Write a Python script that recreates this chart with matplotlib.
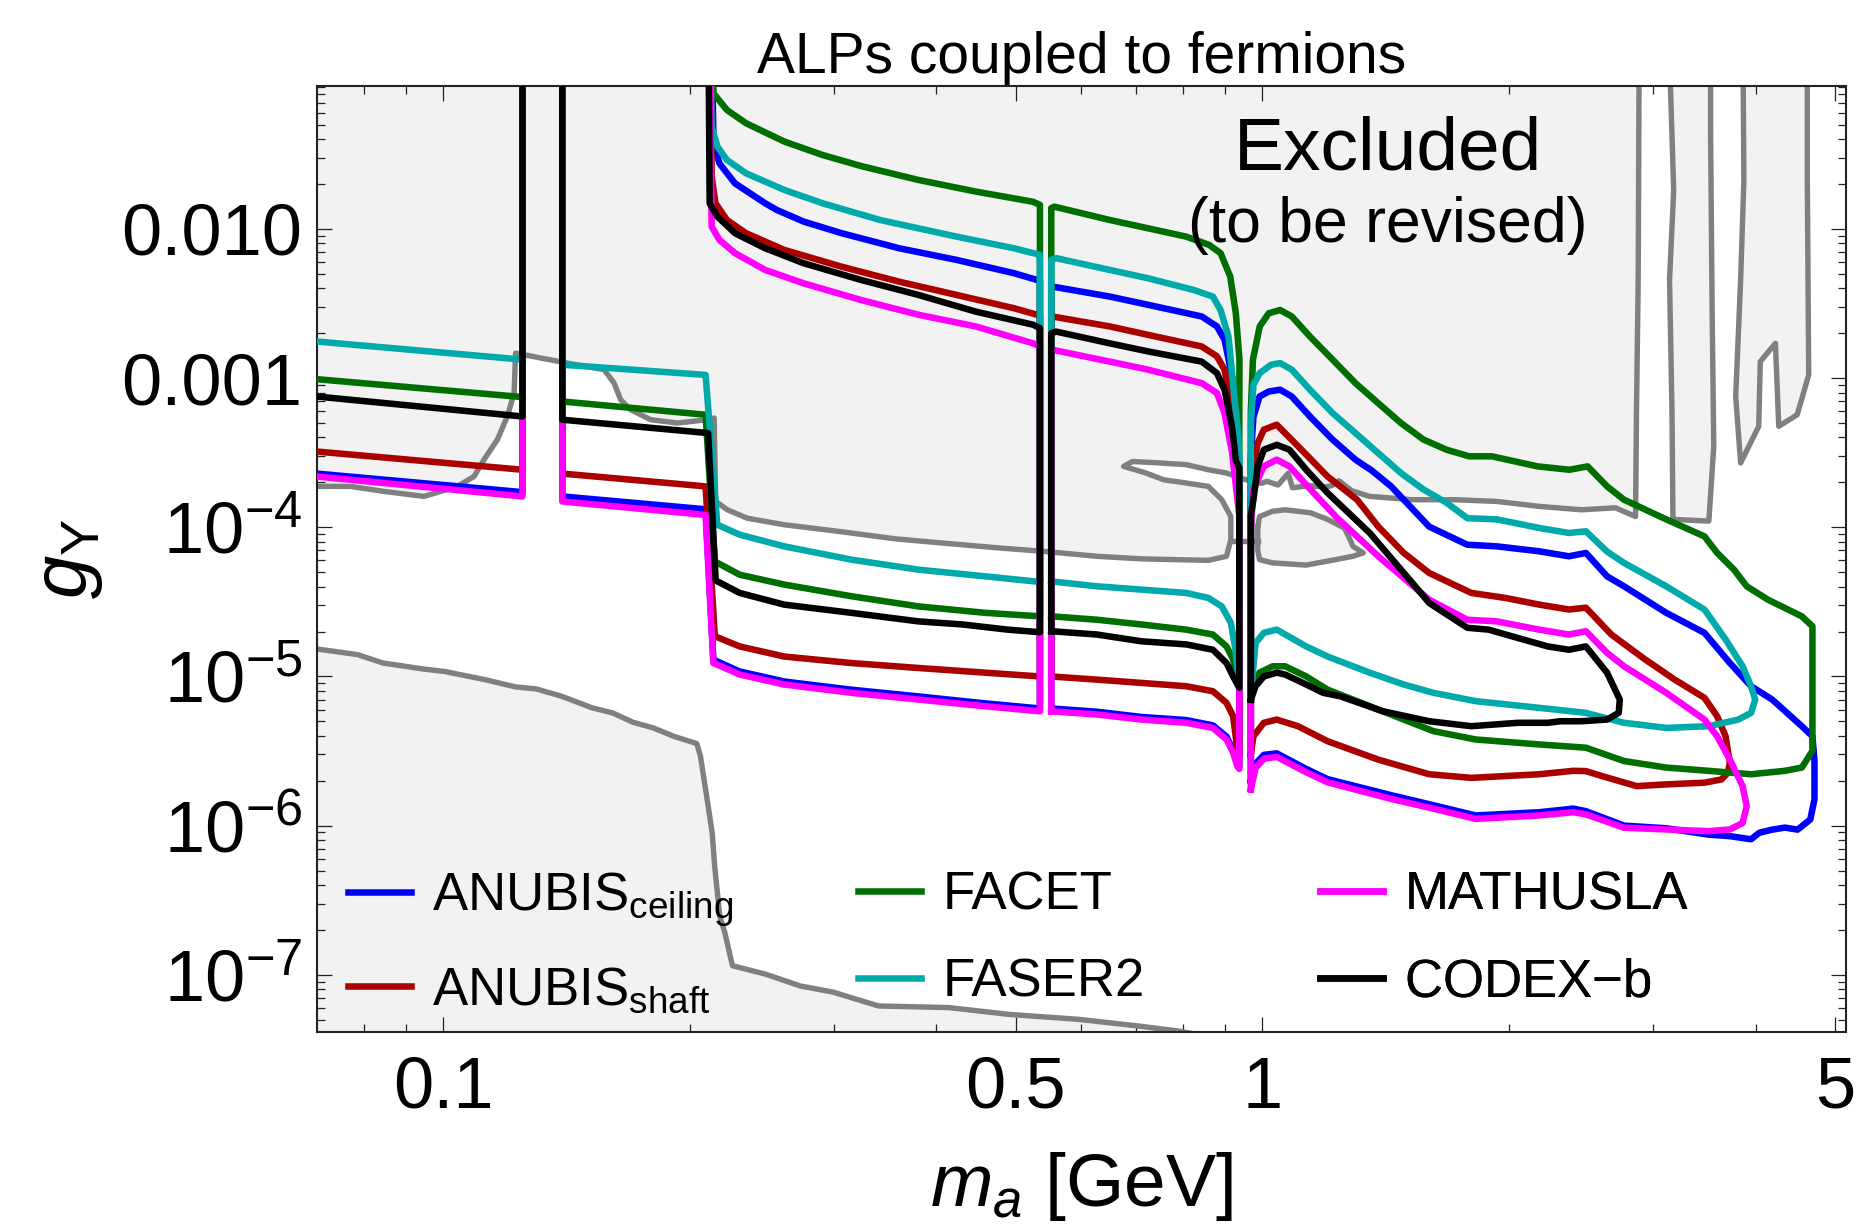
import numpy as np
import matplotlib
matplotlib.use('Agg')
import matplotlib.pyplot as plt
from matplotlib.ticker import FixedLocator, FixedFormatter, NullFormatter

plt.rcParams['font.family'] = ['Liberation Sans', 'DejaVu Sans']
plt.rcParams['mathtext.fontset'] = 'custom'
plt.rcParams['mathtext.rm'] = 'Liberation Sans'
plt.rcParams['mathtext.it'] = 'Liberation Sans:italic'
plt.rcParams['mathtext.bf'] = 'Liberation Sans:bold'

TOP = 1.0      # contours leave the frame at the top
BOTTOM = 1e-9  # and at the bottom

m_range = (0.07, 5.16)
g_range = (4.14e-8, 0.0908)

x_major = [0.1, 0.5, 1, 5]
x_major_labels = ['0.1', '0.5', '1', '5']
x_minor = [0.08, 0.09, 0.2, 0.3, 0.4, 0.6, 0.7, 0.8, 0.9, 2, 3, 4]
y_major = [1e-7, 1e-6, 1e-5, 1e-4, 1e-3, 1e-2]
y_major_labels = ['$10^{-7}$', '$10^{-6}$', '$10^{-5}$', '$10^{-4}$', '0.001', '0.010']

# ---- sensitivity contours (m_a [GeV], g_Y), one list per closed piece ----
anubis_ceiling = [
    [(0.07, 2.29e-4), (0.1249, 1.72e-4), (0.1249, TOP)],
    [(0.1397, TOP), (0.1397, 1.61e-4), (0.209, 1.32e-4), (0.2136, 1.30e-5), (0.216, 1.26e-5),
     (0.230, 1.08e-5), (0.2607, 9.25e-6), (0.3148, 8.15e-6), (0.380, 7.35e-6), (0.4586, 6.6e-6),
     (0.535, 6.1e-6), (0.535, 4.5e-3), (0.5306, 4.55e-3), (0.4973, 5.05e-3), (0.4232, 6.20e-3),
     (0.3601, 7.42e-3), (0.3064, 9.36e-3), (0.2753, 0.0112), (0.2553, 0.0134), (0.2471, 0.01486),
     (0.2270, 0.0202), (0.2173, 0.0275), (0.2137, 0.0375), (0.2114, TOP)],
    [(0.5523, 6.1e-6), (0.628, 5.8e-6), (0.712, 5.35e-6), (0.807, 5.1e-6), (0.870, 4.7e-6),
     (0.904, 3.95e-6), (0.921, 3.2e-6), (0.932, 2.6e-6), (0.937, 2.5e-6), (0.937, 2.2e-4),
     (0.930, 4.5e-4), (0.918, 1.03e-3), (0.899, 1.81e-3), (0.880, 2.22e-3), (0.843, 2.59e-3),
     (0.7248, 3.10e-3), (0.651, 3.52e-3), (0.5537, 4.11e-3), (0.5523, 4.0e-3), (0.5523, 6.1e-6)],
    [(0.968, 2.0e-6), (0.968, 3.0e-4), (0.975, 5.5e-4), (0.992, 7.53e-4), (1.018, 8.13e-4),
     (1.051, 8.36e-4), (1.086, 7.53e-4), (1.143, 5.53e-4), (1.218, 3.87e-4), (1.299, 2.84e-4),
     (1.36, 2.4e-4), (1.436, 1.88e-4), (1.598, 1.01e-4), (1.779, 7.64e-5), (1.933, 7.45e-5),
     (2.178, 6.9e-5), (2.367, 6.39e-5), (2.483, 6.73e-5), (2.635, 4.69e-5), (2.764, 4.02e-5),
     (3.112, 2.67e-5), (3.465, 1.96e-5), (3.722, 1.23e-5), (3.95, 8.6e-6), (4.192, 7.0e-6),
     (4.556, 4.64e-6), (4.694, 3.97e-6), (4.721, 2.71e-6), (4.721, 1.50e-6), (4.666, 1.10e-6),
     (4.502, 9.4e-7), (4.344, 9.7e-7), (4.192, 9.4e-7), (4.043, 8.96e-7), (3.95, 8.1e-7),
     (3.722, 8.5e-7), (3.506, 8.7e-7), (3.112, 9.6e-7), (2.764, 1.0e-6), (2.483, 1.25e-6),
     (2.396, 1.3e-6), (2.178, 1.23e-6), (1.821, 1.17e-6), (1.617, 1.37e-6), (1.436, 1.6e-6),
     (1.201, 2.05e-6), (1.131, 2.4e-6), (1.041, 3.05e-6), (1.004, 2.98e-6), (0.981, 2.6e-6),
     (0.968, 2.0e-6)],
]

anubis_shaft = [
    [(0.07, 3.22e-4), (0.1249, 2.43e-4), (0.1249, TOP)],
    [(0.1397, TOP), (0.1397, 2.29e-4), (0.209, 1.88e-4), (0.2145, 1.86e-5), (0.230, 1.59e-5),
     (0.2607, 1.36e-5), (0.3148, 1.23e-5), (0.380, 1.14e-5), (0.4586, 1.06e-5), (0.535, 1.0e-5),
     (0.535, 2.66e-3), (0.5306, 2.66e-3), (0.4973, 2.94e-3), (0.4232, 3.61e-3), (0.3601, 4.43e-3),
     (0.3064, 5.58e-3), (0.2608, 7.23e-3), (0.2342, 9.36e-3), (0.2219, 0.01148), (0.2149, 0.01486),
     (0.2126, 0.0224), (0.2114, TOP)],
    [(0.5523, 1.0e-5), (0.628, 9.52e-6), (0.712, 9.05e-6), (0.807, 8.6e-6), (0.870, 7.96e-6),
     (0.904, 6.65e-6), (0.921, 5.41e-6), (0.932, 3.24e-6), (0.937, 3.0e-6), (0.937, 2.4e-4),
     (0.928, 3.6e-4), (0.918, 6.14e-4), (0.899, 1.14e-3), (0.880, 1.40e-3), (0.843, 1.63e-3),
     (0.7248, 1.95e-3), (0.651, 2.22e-3), (0.5537, 2.59e-3), (0.5523, 2.5e-3), (0.5523, 1.0e-5)],
    [(0.968, 3.0e-6), (0.968, 1.5e-4), (0.975, 2.56e-4), (0.987, 3.67e-4), (1.004, 4.51e-4),
     (1.041, 4.87e-4), (1.105, 3.5e-4), (1.201, 2.19e-4), (1.305, 1.53e-4), (1.385, 1.01e-4),
     (1.488, 6.73e-5), (1.598, 4.94e-5), (1.799, 3.63e-5), (1.980, 3.36e-5), (2.178, 3.03e-5),
     (2.367, 2.81e-5), (2.483, 2.89e-5), (2.667, 1.91e-5), (2.933, 1.30e-5), (3.187, 9.52e-6),
     (3.465, 7.19e-6), (3.591, 5.41e-6), (3.677, 3.97e-6), (3.722, 2.64e-6), (3.70, 2.26e-6),
     (3.634, 2.04e-6), (3.465, 1.94e-6), (3.112, 1.89e-6), (2.864, 1.84e-6), (2.604, 2.14e-6),
     (2.483, 2.32e-6), (2.396, 2.33e-6), (2.178, 2.21e-6), (1.799, 2.09e-6), (1.598, 2.21e-6),
     (1.385, 2.77e-6), (1.201, 3.68e-6), (1.105, 4.64e-6), (1.041, 5.14e-6), (1.004, 4.89e-6),
     (0.975, 3.97e-6), (0.968, 3.0e-6)],
]

facet = [
    [(0.07, 9.84e-4), (0.1249, 7.46e-4), (0.1249, TOP)],
    [(0.1397, TOP), (0.1397, 6.97e-4), (0.209, 5.68e-4), (0.2145, 5.9e-5), (0.230, 4.81e-5),
     (0.2607, 4.13e-5), (0.3148, 3.45e-5), (0.380, 2.95e-5), (0.4586, 2.67e-5), (0.535, 2.53e-5),
     (0.535, 0.0145), (0.5248, 0.0152), (0.4467, 0.0178), (0.3801, 0.0213), (0.3235, 0.0264),
     (0.2904, 0.0313), (0.2608, 0.0385), (0.2342, 0.0511), (0.2219, 0.0627), (0.2137, 0.0811),
     (0.2103, TOP)],
    [(0.5523, 2.53e-5), (0.628, 2.40e-5), (0.712, 2.23e-5), (0.807, 2.06e-5), (0.870, 1.91e-5),
     (0.904, 1.59e-5), (0.921, 1.30e-5), (0.937, 8.4e-6), (0.937, 4.0e-4), (0.9375, 1.33e-3),
     (0.928, 2.72e-3), (0.9135, 4.79e-3), (0.889, 6.88e-3), (0.861, 7.81e-3), (0.807, 8.88e-3),
     (0.7248, 0.0101), (0.651, 0.01148), (0.557, 0.0141), (0.5523, 0.0138), (0.5523, 2.53e-5)],
    [(0.968, 7.0e-6), (0.968, 6.0e-4), (0.9737, 1.33e-3), (0.9924, 2.22e-3), (1.018, 2.72e-3),
     (1.051, 2.86e-3), (1.086, 2.59e-3), (1.143, 1.90e-3), (1.218, 1.33e-3), (1.299, 9.25e-4),
     (1.384, 6.81e-4), (1.476, 5.0e-4), (1.573, 3.87e-4), (1.678, 3.31e-4), (1.788, 2.99e-4),
     (1.906, 2.99e-4), (2.167, 2.56e-4), (2.371, 2.43e-4), (2.495, 2.56e-4), (2.635, 1.88e-4),
     (2.764, 1.53e-4), (3.112, 1.13e-4), (3.465, 8.69e-5), (3.591, 6.73e-5), (3.765, 5.2e-5),
     (3.902, 4.02e-5), (4.142, 3.27e-5), (4.556, 2.53e-5), (4.694, 2.17e-5), (4.694, 3.17e-6),
     (4.666, 3.01e-6), (4.556, 2.45e-6), (4.344, 2.33e-6), (3.950, 2.21e-6), (3.506, 2.33e-6),
     (3.112, 2.45e-6), (2.764, 2.71e-6), (2.483, 3.33e-6), (2.178, 3.50e-6), (1.821, 3.78e-6),
     (1.617, 4.30e-6), (1.488, 5.14e-6), (1.385, 6.0e-6), (1.201, 8.16e-6), (1.131, 1.0e-5),
     (1.066, 1.17e-5), (1.029, 1.17e-5), (0.992, 1.06e-5), (0.975, 9.06e-6), (0.968, 7.0e-6)],
]

faser2 = [
    [(0.07, 1.76e-3), (0.1249, 1.33e-3), (0.1249, TOP)],
    [(0.1397, TOP), (0.1397, 1.23e-3), (0.209, 1.05e-3), (0.216, 1.04e-4), (0.230, 8.92e-5),
     (0.2607, 7.45e-5), (0.3148, 6.07e-5), (0.380, 5.20e-5), (0.4586, 4.69e-5), (0.535, 4.3e-5),
     (0.535, 6.70e-3), (0.4973, 7.42e-3), (0.4232, 8.88e-3), (0.3413, 0.01148), (0.2904, 0.01486),
     (0.2608, 0.01824), (0.2342, 0.0236), (0.2219, 0.0290), (0.2161, 0.0356), (0.2126, 0.0484),
     (0.2103, TOP)],
    [(0.5523, 4.34e-5), (0.628, 4.02e-5), (0.712, 3.82e-5), (0.807, 3.63e-5), (0.859, 3.36e-5),
     (0.892, 2.95e-5), (0.915, 2.29e-5), (0.927, 1.51e-5), (0.937, 8.4e-6), (0.937, 3.0e-4),
     (0.933, 4.5e-4), (0.923, 7.94e-4), (0.909, 1.90e-3), (0.889, 2.86e-3), (0.870, 3.52e-3),
     (0.824, 3.90e-3), (0.7248, 4.67e-3), (0.651, 5.31e-3), (0.560, 6.37e-3), (0.5523, 6.2e-3),
     (0.5523, 4.34e-5)],
    [(0.968, 7.0e-6), (0.968, 5.0e-4), (0.975, 9.0e-4), (0.992, 1.08e-3), (1.025, 1.23e-3),
     (1.051, 1.26e-3), (1.086, 1.14e-3), (1.143, 8.36e-4), (1.218, 5.83e-4), (1.299, 4.28e-4),
     (1.384, 3.15e-4), (1.476, 2.31e-4), (1.573, 1.79e-4), (1.678, 1.46e-4), (1.779, 1.15e-4),
     (1.933, 1.13e-4), (2.178, 9.89e-5), (2.367, 9.16e-5), (2.483, 9.4e-5), (2.635, 6.87e-5),
     (2.764, 5.77e-5), (3.112, 4.02e-5), (3.465, 2.81e-5), (3.677, 1.77e-5), (3.857, 1.17e-5),
     (3.950, 8.6e-6), (3.996, 7.0e-6), (3.950, 5.7e-6), (3.811, 5.14e-6), (3.506, 4.64e-6),
     (3.112, 4.52e-6), (2.764, 4.89e-6), (2.483, 5.7e-6), (2.178, 6.16e-6), (1.821, 6.83e-6),
     (1.617, 7.77e-6), (1.488, 8.83e-6), (1.352, 1.06e-5), (1.201, 1.36e-5), (1.131, 1.59e-5),
     (1.041, 2.06e-5), (1.004, 1.96e-5), (0.981, 1.68e-5), (0.975, 1.17e-5), (0.968, 7.0e-6)],
]

mathusla = [
    [(0.07, 2.19e-4), (0.1249, 1.61e-4), (0.1249, TOP)],
    [(0.1397, TOP), (0.1397, 1.49e-4), (0.209, 1.21e-4), (0.2136, 1.23e-5), (0.216, 1.20e-5),
     (0.230, 1.03e-5), (0.2607, 8.83e-6), (0.3148, 7.77e-6), (0.380, 7.0e-6), (0.4586, 6.31e-6),
     (0.535, 5.84e-6), (0.535, 1.63e-3), (0.5248, 1.71e-3), (0.4467, 2.22e-3), (0.3801, 2.66e-3),
     (0.3235, 3.34e-3), (0.2753, 4.32e-3), (0.2471, 5.31e-3), (0.2270, 6.88e-3), (0.2173, 8.44e-3),
     (0.2126, 0.01036), (0.2103, TOP)],
    [(0.5523, 5.84e-6), (0.628, 5.56e-6), (0.712, 5.14e-6), (0.807, 4.89e-6), (0.870, 4.52e-6),
     (0.904, 3.78e-6), (0.921, 3.08e-6), (0.932, 2.5e-6), (0.937, 2.4e-6), (0.937, 1.2e-4),
     (0.928, 1.9e-4), (0.918, 3.2e-4), (0.899, 5.8e-4), (0.880, 7.94e-4), (0.843, 9.25e-4),
     (0.7248, 1.14e-3), (0.651, 1.29e-3), (0.5537, 1.55e-3), (0.5523, 1.5e-3), (0.5523, 5.84e-6)],
    [(0.968, 1.75e-6), (0.968, 1.0e-4), (0.975, 1.8e-4), (1.004, 2.56e-4), (1.041, 2.84e-4),
     (1.079, 2.56e-4), (1.145, 1.79e-4), (1.229, 1.18e-4), (1.385, 6.39e-5), (1.598, 3.27e-5),
     (1.779, 2.40e-5), (1.933, 2.34e-5), (2.178, 2.06e-5), (2.367, 1.91e-5), (2.483, 2.01e-5),
     (2.635, 1.44e-5), (2.764, 1.17e-5), (3.112, 7.77e-6), (3.465, 5.14e-6), (3.591, 3.97e-6),
     (3.722, 2.77e-6), (3.857, 1.84e-6), (3.902, 1.35e-6), (3.857, 1.04e-6), (3.722, 9.43e-7),
     (3.506, 9.18e-7), (3.112, 9.43e-7), (2.764, 9.68e-7), (2.483, 1.19e-6), (2.396, 1.23e-6),
     (2.178, 1.17e-6), (1.821, 1.11e-6), (1.617, 1.30e-6), (1.436, 1.51e-6), (1.201, 1.95e-6),
     (1.131, 2.28e-6), (1.041, 2.89e-6), (1.004, 2.81e-6), (0.981, 2.44e-6), (0.968, 1.75e-6)],
]

codex_b = [
    [(0.07, 7.53e-4), (0.1249, 5.53e-4), (0.1249, TOP)],
    [(0.1397, TOP), (0.1397, 5.26e-4), (0.2105, 4.28e-4), (0.2150, 4.4e-5), (0.230, 3.63e-5),
     (0.2607, 3.03e-5), (0.3148, 2.67e-5), (0.380, 2.34e-5), (0.4308, 2.23e-5), (0.4884, 2.06e-5),
     (0.535, 1.98e-5), (0.535, 2.16e-3), (0.5248, 2.28e-3), (0.4467, 2.79e-3), (0.3801, 3.61e-3),
     (0.3235, 4.55e-3), (0.2753, 5.89e-3), (0.2471, 7.42e-3), (0.2270, 9.36e-3), (0.2161, 0.01208),
     (0.2114, 0.01486), (0.2103, TOP)],
    [(0.5523, 2.01e-5), (0.628, 1.91e-5), (0.712, 1.72e-5), (0.807, 1.64e-5), (0.870, 1.51e-5),
     (0.904, 1.23e-5), (0.921, 1.0e-5), (0.937, 8.4e-6), (0.937, 2.5e-4), (0.928, 2.8e-4),
     (0.918, 4.75e-4), (0.899, 8.36e-4), (0.880, 1.08e-3), (0.843, 1.29e-3), (0.7248, 1.51e-3),
     (0.651, 1.71e-3), (0.560, 2.05e-3), (0.5523, 2.0e-3), (0.5523, 2.01e-5)],
    [(0.968, 7.0e-6), (0.968, 1.2e-4), (0.975, 1.53e-4), (0.987, 2.56e-4), (1.004, 3.31e-4),
     (1.041, 3.57e-4), (1.079, 3.31e-4), (1.131, 2.43e-4), (1.201, 1.70e-4), (1.352, 9.16e-5),
     (1.524, 4.24e-5), (1.598, 3.11e-5), (1.779, 2.12e-5), (1.888, 2.06e-5), (2.051, 1.81e-5),
     (2.230, 1.59e-5), (2.367, 1.51e-5), (2.483, 1.59e-5), (2.635, 1.06e-5), (2.731, 7.0e-6),
     (2.723, 5.7e-6), (2.635, 5.14e-6), (2.454, 5.01e-6), (2.311, 5.01e-6), (2.230, 4.89e-6),
     (2.051, 4.89e-6), (1.799, 4.64e-6), (1.598, 5.01e-6), (1.402, 5.85e-6), (1.245, 7.36e-6),
     (1.186, 7.77e-6), (1.131, 8.83e-6), (1.066, 1.03e-5), (1.041, 1.06e-5), (1.004, 1.0e-5),
     (0.981, 8.6e-6), (0.968, 7.0e-6)],
]

# ---- existing bounds (grey) ----
bound_upper = [
    (0.07, 1.88e-4), (0.0770, 1.88e-4), (0.0846, 1.74e-4), (0.0947, 1.61e-4), (0.1040, 1.88e-4),
    (0.1090, 2.19e-4), (0.1121, 2.84e-4), (0.1164, 3.87e-4), (0.1197, 5.53e-4), (0.1220, 7.94e-4),
    (0.1225, 1.47e-3), (0.1417, 1.26e-3), (0.1571, 1.14e-3), (0.1616, 9.25e-4), (0.1646, 7.16e-4),
    (0.1693, 6.14e-4), (0.1791, 5.26e-4), (0.1931, 5.0e-4), (0.2101, 5.26e-4), (0.2141, 5.40e-4),
    (0.2150, 1.49e-4), (0.2222, 1.31e-4), (0.2350, 1.15e-4), (0.2607, 1.04e-4), (0.3031, 9.4e-5),
    (0.3568, 8.36e-5), (0.4046, 7.86e-5), (0.4765, 7.27e-5), (0.540, 6.9e-5), (0.628, 6.39e-5),
    (0.712, 6.14e-5), (0.859, 6.0e-5), (0.904, 6.39e-5), (0.915, 8.26e-5), (0.915, 1.18e-4),
    (0.892, 1.53e-4), (0.859, 1.88e-4), (0.807, 1.98e-4), (0.758, 2.08e-4), (0.721, 2.31e-4),
    (0.677, 2.56e-4), (0.694, 2.76e-4), (0.748, 2.70e-4), (0.807, 2.63e-4), (0.859, 2.43e-4),
    (0.904, 2.31e-4), (0.95, 2.1e-4), (0.997, 1.97e-4), (1.013, 2.03e-4), (1.045, 1.92e-4),
    (1.075, 2.30e-4), (1.088, 1.84e-4), (1.14, 1.90e-4), (1.19, 1.86e-4), (1.215, 1.90e-4),
    (1.24, 2.05e-4), (1.285, 1.76e-4), (1.352, 1.61e-4), (1.436, 1.57e-4), (1.524, 1.53e-4),
    (1.717, 1.53e-4), (1.933, 1.49e-4), (2.178, 1.38e-4), (2.454, 1.31e-4), (2.698, 1.35e-4),
    (2.855, 1.18e-4), (2.862, 5.8e-4), (2.876, 4.5e-3), (2.888, TOP),
]
bound_island = [
    (0.987, 1.01e-4), (0.992, 1.18e-4), (1.029, 1.28e-4), (1.066, 1.31e-4), (1.145, 1.25e-4),
    (1.201, 1.13e-4), (1.259, 9.89e-5), (1.274, 8.69e-5), (1.290, 7.45e-5), (1.328, 6.73e-5),
    (1.290, 6.39e-5), (1.201, 5.93e-5), (1.131, 5.58e-5), (1.029, 5.77e-5), (0.992, 6.07e-5),
    (0.987, 7.0e-5), (0.987, 1.01e-4),
]
bound_link = [(0.915, 8.1e-5), (0.987, 8.1e-5)]
bound_strip1 = [
    (3.149, TOP), (3.149, 0.09), (3.178, 0.0182), (3.141, 4.55e-3), (3.163, 5.83e-4),
    (3.171, 1.13e-4), (3.508, 1.10e-4), (3.557, 3.48e-4), (3.541, 2.72e-3), (3.525, 0.046),
    (3.525, TOP),
]
bound_strip2 = [
    (3.853, TOP), (3.871, 0.0213), (3.836, 4.55e-3), (3.783, 7.53e-4), (3.836, 2.70e-4),
    (4.036, 4.75e-4), (4.054, 1.29e-3), (4.23, 1.71e-3), (4.27, 4.75e-4), (4.497, 5.68e-4),
    (4.645, 1.05e-3), (4.627, 0.0213), (4.627, TOP),
]
bound_lower = [
    (0.070, 1.53e-5), (0.0786, 1.40e-5), (0.0844, 1.23e-5), (0.0947, 1.12e-5), (0.1003, 1.08e-5),
    (0.1124, 9.52e-6), (0.1225, 8.51e-6), (0.1298, 8.25e-6), (0.1394, 7.37e-6), (0.1519, 6.16e-6),
    (0.1609, 5.70e-6), (0.1704, 4.93e-6), (0.1804, 4.52e-6), (0.1911, 3.97e-6), (0.2039, 3.55e-6),
    (0.2060, 2.92e-6), (0.2099, 1.50e-6), (0.2129, 8.96e-7), (0.2144, 5.36e-7), (0.2175, 2.48e-7),
    (0.2206, 1.92e-7), (0.2254, 1.15e-7), (0.2474, 1.01e-7), (0.2729, 8.41e-8), (0.2987, 7.67e-8),
    (0.340, 6.18e-8), (0.414, 6.03e-8), (0.490, 5.43e-8), (0.596, 5.03e-8), (0.705, 4.54e-8),
    (0.789, 4.2e-8), (0.85, 3.9e-8),
]

detectors = [
    ('ANUBIS$_{\\mathrm{ceiling}}$', anubis_ceiling, '#0000ff'),
    ('ANUBIS$_{\\mathrm{shaft}}$', anubis_shaft, '#aa0000'),
    ('FACET', facet, '#006e00'),
    ('FASER2', faser2, '#00aaaa'),
    ('MATHUSLA', mathusla, '#ff00ff'),
    ('CODEX$-$b', codex_b, '#000000'),
]

fill_color = '#f2f2f2'
bound_color = '#808080'

fig = plt.figure(figsize=(18.64, 12.25), dpi=100)
ax = fig.add_axes([0.1698, 0.1576, 0.8206, 0.7722])
ax.set_xscale('log')
ax.set_yscale('log')

# excluded regions
up = np.array(bound_upper)
ax.fill(np.r_[m_range[0], up[:, 0]], np.r_[TOP, up[:, 1]], color=fill_color, lw=0, zorder=1)
lo = np.array(bound_lower)
ax.fill(np.r_[m_range[0], lo[:, 0], lo[-1, 0]], np.r_[BOTTOM, lo[:, 1], BOTTOM],
        color=fill_color, lw=0, zorder=1)
for poly in (bound_island, bound_strip1, bound_strip2):
    p = np.array(poly)
    ax.fill(p[:, 0], p[:, 1], color=fill_color, lw=0, zorder=1)

for curve in (bound_upper, bound_island, bound_link, bound_strip1, bound_strip2, bound_lower):
    c = np.array(curve)
    ax.plot(c[:, 0], c[:, 1], color=bound_color, lw=3.9, zorder=2, solid_joinstyle='round')

# projected sensitivities
lines = []
for k, (label, pieces, color) in enumerate(detectors):
    for piece in pieces:
        p = np.array(piece)
        ln, = ax.plot(p[:, 0], p[:, 1], color=color, lw=4.7, zorder=3 + k,
                      solid_joinstyle='round')
    lines.append(ln)

ax.set_xlim(*m_range)
ax.set_ylim(*g_range)

ax.xaxis.set_major_locator(FixedLocator(x_major))
ax.xaxis.set_major_formatter(FixedFormatter(x_major_labels))
ax.xaxis.set_minor_locator(FixedLocator(x_minor))
ax.xaxis.set_minor_formatter(NullFormatter())
y_minor = [s * 10.0 ** e for e in range(-9, 0) for s in range(2, 10)]
ax.yaxis.set_major_locator(FixedLocator(y_major))
ax.yaxis.set_major_formatter(FixedFormatter(y_major_labels))
ax.yaxis.set_minor_locator(FixedLocator(y_minor))
ax.yaxis.set_minor_formatter(NullFormatter())

ax.tick_params(which='both', direction='in', top=True, right=True, width=0.9, color='#222222')
ax.tick_params(which='major', length=11, labelsize=52)
ax.tick_params(which='minor', length=5.5)
ax.tick_params(axis='x', which='major', pad=17)
ax.tick_params(axis='y', which='major', pad=10)
for s in ax.spines.values():
    s.set_linewidth(1.5)
    s.set_color('#222222')

ax.set_xlabel('$m_a$ [GeV]', fontsize=54, labelpad=20)
ax.set_ylabel('$g_{\\mathrm{Y}}$', fontsize=56, labelpad=12)
ax.set_title('ALPs coupled to fermions', fontsize=41, pad=9)

ax.text(0.7006, 0.9112, 'Excluded', transform=ax.transAxes, ha='center', va='baseline',
        fontsize=54, zorder=10)
ax.text(0.7006, 0.8354, '(to be revised)', transform=ax.transAxes, ha='center',
        va='baseline', fontsize=45, zorder=10)

legend_cols = [(0.0206, [0, 1]), (0.354, [2, 3]), (0.656, [4, 5])]
for x0, idx in legend_cols:
    leg = ax.legend([lines[i] for i in idx], [detectors[i][0] for i in idx],
                    loc='upper left', bbox_to_anchor=(x0, 0.171), frameon=False,
                    fontsize=38, handlelength=1.2, handletextpad=0.4, labelspacing=0.7,
                    borderpad=0, borderaxespad=0)
    leg.set_zorder(20)
    ax.add_artist(leg)

fig.savefig('out.png', dpi=100)
